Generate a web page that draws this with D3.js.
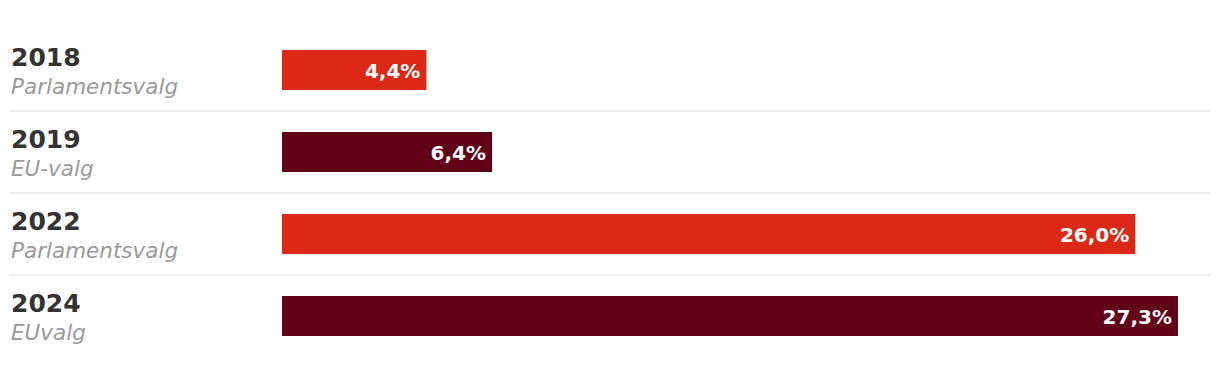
<!DOCTYPE html>
<html>
<head>
<meta charset="utf-8">
<script src="https://cdn.jsdelivr.net/npm/d3@7"></script>
<style>
  html, body { margin: 0; padding: 0; background: #fff; }
  svg { display: block; }
</style>
</head>
<body>
<svg id="chart" width="1220" height="366"></svg>
<script>
const years = ["2018", "2019", "2022", "2024"];
const elections = ["Parlamentsvalg", "EU-valg", "Parlamentsvalg", "EUvalg"];
const values = [4.4, 6.4, 26.0, 27.3];
const valueLabels = ["4,4%", "6,4%", "26,0%", "27,3%"];
const kinds = ["parl", "eu", "parl", "eu"];

const colors = { parl: "#dc2817", eu: "#620018" };
const font = "'DejaVu Sans', sans-serif";

const svg = d3.select("#chart");

const y = d3.scaleBand().domain(years).range([30, 358]).paddingInner(0).paddingOuter(0);
const x = d3.scaleLinear().domain([0, 27.3]).range([282, 1178]);

const rows = years.map((yr, i) => ({ yr, el: elections[i], v: values[i], lab: valueLabels[i], kind: kinds[i], i }));

// separators
svg.selectAll("line.sep")
  .data(rows.slice(0, rows.length - 1))
  .join("line")
  .attr("class", "sep")
  .attr("x1", 10).attr("x2", 1210)
  .attr("y1", d => y(d.yr) + 81).attr("y2", d => y(d.yr) + 81)
  .attr("stroke", "#e8e8e8").attr("stroke-width", 1.5);

const g = svg.selectAll("g.row").data(rows).join("g").attr("class", "row");

g.append("text")
  .attr("x", 11).attr("y", d => y(d.yr) + 36)
  .attr("font-family", font).attr("font-weight", "bold").attr("font-size", 25)
  .attr("fill", "#333")
  .text(d => d.yr);

g.append("text")
  .attr("x", 11).attr("y", d => y(d.yr) + 64)
  .attr("font-family", font).attr("font-style", "italic").attr("font-size", 21.5)
  .attr("fill", "#9a9a9a")
  .text(d => d.el);

g.append("rect")
  .attr("x", x(0)).attr("y", d => y(d.yr) + 20)
  .attr("width", d => x(d.v) - x(0)).attr("height", 40)
  .attr("fill", d => colors[d.kind]);

g.append("text")
  .attr("x", d => x(d.v) - 6).attr("y", d => y(d.yr) + 47.5)
  .attr("text-anchor", "end")
  .attr("font-family", font).attr("font-weight", "bold").attr("font-size", 20)
  .attr("fill", "#fff")
  .text(d => d.lab);
</script>
</body>
</html>
